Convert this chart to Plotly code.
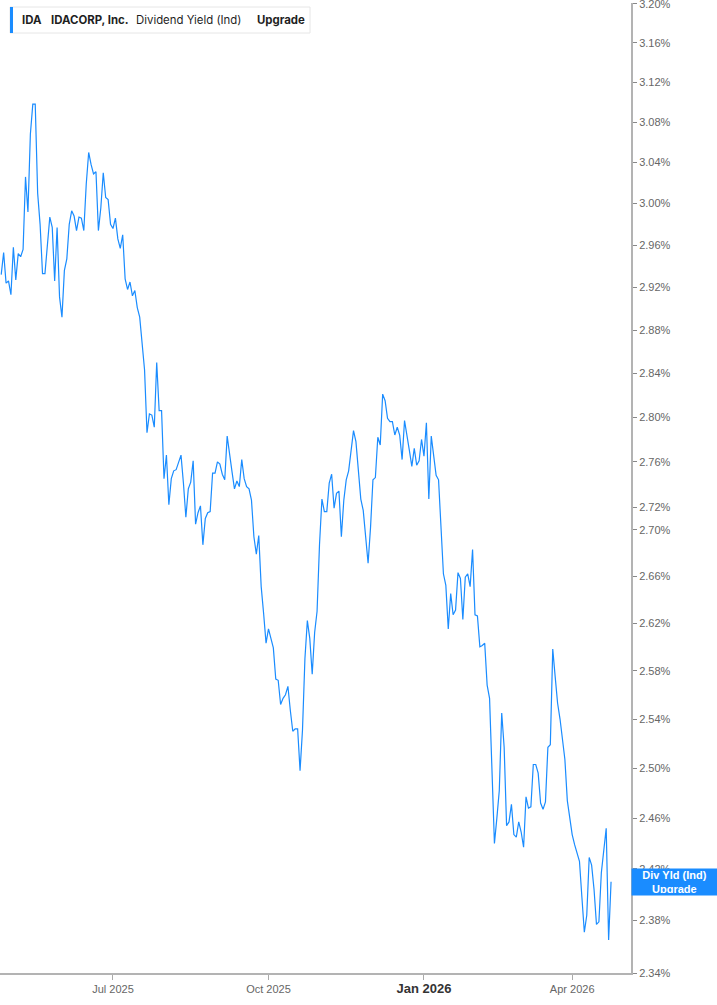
import numpy as np
import pandas as pd
import plotly.graph_objects as go

# ---------------- data ----------------
start_date = "2025-04-24"
end_date = "2026-04-24"
market_holidays = ["2025-05-26", "2025-06-19", "2025-07-04", "2025-09-01", "2025-11-27",
                   "2025-12-25", "2026-01-01", "2026-01-19", "2026-02-16", "2026-04-03"]

div_yield = [
    2.932, 2.953, 2.924, 2.926, 2.913, 2.958, 2.927, 2.952, 2.949, 2.956,
    3.026, 2.992, 3.068, 3.098, 3.098, 3.010, 2.980, 2.933, 2.933, 2.964,
    2.987, 2.977, 2.926, 2.977, 2.911, 2.892, 2.936, 2.947, 2.980, 2.993,
    2.988, 2.974, 2.987, 2.986, 2.974, 3.019, 3.050, 3.038, 3.029, 3.031,
    2.974, 2.996, 3.030, 3.006, 3.004, 2.980, 2.976, 2.986, 2.966, 2.957,
    2.970, 2.928, 2.918, 2.925, 2.912, 2.917, 2.901, 2.892, 2.870, 2.843,
    2.786, 2.803, 2.802, 2.791, 2.850, 2.806, 2.806, 2.745, 2.766, 2.722,
    2.745, 2.752, 2.753, 2.760, 2.766, 2.741, 2.711, 2.736, 2.742, 2.761,
    2.705, 2.715, 2.721, 2.687, 2.710, 2.715, 2.716, 2.750, 2.750, 2.760,
    2.758, 2.749, 2.744, 2.783, 2.765, 2.751, 2.736, 2.743, 2.738, 2.762,
    2.745, 2.738, 2.736, 2.726, 2.694, 2.679, 2.695, 2.651, 2.628, 2.603,
    2.615, 2.608, 2.599, 2.573, 2.572, 2.552, 2.557, 2.560, 2.567, 2.547,
    2.530, 2.532, 2.532, 2.498, 2.531, 2.590, 2.622, 2.607, 2.577, 2.612,
    2.630, 2.687, 2.727, 2.716, 2.716, 2.741, 2.749, 2.719, 2.732, 2.734,
    2.694, 2.726, 2.744, 2.752, 2.770, 2.788, 2.778, 2.752, 2.727, 2.717,
    2.694, 2.671, 2.702, 2.744, 2.746, 2.782, 2.775, 2.821, 2.815, 2.799,
    2.796, 2.796, 2.784, 2.791, 2.784, 2.762, 2.797, 2.785, 2.770, 2.756,
    2.772, 2.757, 2.761, 2.780, 2.765, 2.795, 2.727, 2.783, 2.764, 2.748,
    2.744, 2.702, 2.662, 2.652, 2.615, 2.645, 2.627, 2.631, 2.663, 2.658,
    2.623, 2.659, 2.662, 2.651, 2.683, 2.627, 2.626, 2.600, 2.601, 2.603,
    2.568, 2.557, 2.490, 2.440, 2.460, 2.482, 2.545, 2.517, 2.454, 2.457,
    2.471, 2.447, 2.445, 2.457, 2.449, 2.437, 2.477, 2.468, 2.469, 2.503,
    2.503, 2.496, 2.472, 2.467, 2.473, 2.517, 2.519, 2.598, 2.575, 2.553,
    2.540, 2.523, 2.507, 2.474, 2.460, 2.447, 2.439, 2.432, 2.426, 2.398,
    2.371, 2.384, 2.429, 2.423, 2.404, 2.377, 2.379, 2.417, 2.436, 2.452,
    2.365, 2.410,
]

y_ticks = [2.34, 2.38, 2.42, 2.46, 2.50, 2.54, 2.58, 2.62, 2.66, 2.70, 2.72, 2.76,
           2.80, 2.84, 2.88, 2.92, 2.96, 3.00, 3.04, 3.08, 3.12, 3.16, 3.20]
x_tick_dates = ["2025-07-01", "2025-10-01", "2026-01-02", "2026-04-01"]
x_tick_labels = ["Jul 2025", "Oct 2025",
                 "<span style='font-size:13px;color:#333'><b>Jan 2026</b></span>", "Apr 2026"]

# ---------------- figure ----------------
dates = pd.bdate_range(start_date, end_date, freq="C", holidays=market_holidays)
n = min(len(dates), len(div_yield))
dates = dates[:n]
vals = div_yield[:n]

BLUE = "#1a8cff"
W, H = 717, 1005
ML, MR, MT, MB = 0, 86, 3, 32
PW, PH = W - ML - MR, H - MT - MB


def px_x(p):
    return p / PW


def px_y(p):
    return 1 - (p - MT) / PH


fig = go.Figure()
fig.add_trace(go.Scatter(x=dates, y=vals, mode="lines",
                         line=dict(color=BLUE, width=1.2), hoverinfo="skip",
                         showlegend=False))

fig.update_layout(
    width=W, height=H, autosize=False,
    margin=dict(l=ML, r=MR, t=MT, b=MB, autoexpand=False),
    paper_bgcolor="white", plot_bgcolor="white",
    font=dict(family="Liberation Sans, Arial, sans-serif", size=11, color="#666"),
    showlegend=False,
)

fig.update_xaxes(
    type="date", automargin=False,
    range=["2025-04-23 12:00", "2026-05-06 05:00"],
    rangebreaks=[dict(bounds=["sat", "mon"]), dict(values=market_holidays)],
    tickvals=x_tick_dates, ticktext=x_tick_labels,
    ticks="outside", ticklen=5, tickcolor="#aaa", tickwidth=1,
    showline=True, linecolor="#b3b3b3", linewidth=2,
    showgrid=False, zeroline=False,
    tickfont=dict(family="Liberation Sans, Arial, sans-serif", size=11, color="#666"),
)

fig.update_yaxes(
    type="log", side="right", automargin=False,
    range=[np.log10(2.34), np.log10(3.2008)],
    tickvals=y_ticks, ticktext=[f"{v:.2f}%" for v in y_ticks],
    ticklabeloverflow="allow",
    ticks="outside", ticklen=4, tickcolor="#888", tickwidth=1,
    showline=True, linecolor="#b3b3b3", linewidth=2,
    showgrid=False, zeroline=False,
    tickfont=dict(family="Liberation Sans, Arial, sans-serif", size=11, color="#666"),
)

# legend-like header box
fig.add_shape(type="rect", xref="paper", yref="paper",
              x0=px_x(10), x1=px_x(310), y0=px_y(33), y1=px_y(7),
              line=dict(color="#e6e6e6", width=1), fillcolor="white", layer="above")
fig.add_shape(type="rect", xref="paper", yref="paper",
              x0=px_x(10), x1=px_x(13), y0=px_y(33), y1=px_y(7),
              line=dict(width=0), fillcolor=BLUE, layer="above")

header = [("<b>IDA</b>", 20), ("<b>IDACORP, Inc.</b>", 49),
          ("Dividend Yield (Ind)", 134), ("<b>Upgrade</b>", 255)]
for txt, xp in header:
    fig.add_annotation(text=txt, xref="paper", yref="paper", x=px_x(xp), y=px_y(20),
                       xanchor="left", yanchor="middle", showarrow=False,
                       font=dict(family="Inter, Roboto, sans-serif", size=11.4, color="#1f1f1f"))

# right-axis value label
fig.add_annotation(text="<b>Div Yld (Ind)<br>Upgrade</b>", xref="paper", yref="y",
                   x=1, y=np.log10(vals[-1]), xanchor="left", yanchor="middle",
                   showarrow=False, bgcolor=BLUE, width=81, height=22, borderpad=2,
                   align="center",
                   font=dict(family="Liberation Sans, Arial, sans-serif", size=11, color="white"))

fig.write_html("out.html", config={"displayModeBar": False},
               post_script="document.body.style.margin='0';")
